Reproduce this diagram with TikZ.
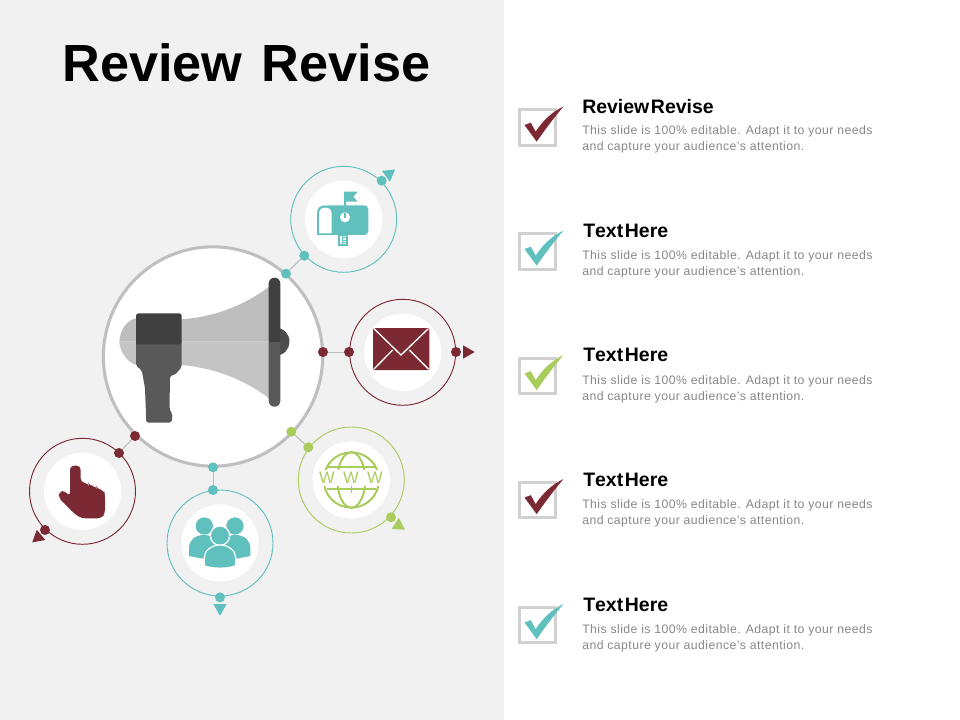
\documentclass[tikz,border=0pt]{standalone}
\usepackage{fontspec}
\setmainfont{Liberation Sans}
\usetikzlibrary{shapes.geometric}
\definecolor{maroon}{HTML}{7B2A33}
\definecolor{teal}{HTML}{60C0BE}
\definecolor{leaf}{HTML}{A9CC5C}
\definecolor{panel}{HTML}{F1F1F1}
\newcommand{\wordgap}[1]{\spaceskip #1\relax}
\begin{document}
\begin{tikzpicture}[x=0.75pt,y=-0.75pt]
  \tikzset{ ring/.style={circle,draw=#1,line width=0.7pt,inner sep=0pt,outer sep=0pt,minimum size=79.5pt},
    disc/.style={circle,fill=white,inner sep=0pt,minimum size=58pt},
    dot/.style={circle,fill=#1,inner sep=0pt,outer sep=0pt,minimum size=7.5pt},
    tip/.style={regular polygon,regular polygon sides=3,fill=#1,inner sep=0pt,outer sep=0pt,minimum size=11.5pt},
    link/.style={draw=gray!55,line width=0.75pt},
    chk/.style={draw=black!18,line width=2.2pt,inner sep=0pt,minimum size=26.5pt},
    head/.style={anchor=west,inner sep=0pt,font=\fontsize{14.6}{16}\selectfont\bfseries\addfontfeature{Kerning=Off}\wordgap{1.2pt}},
    copy/.style={anchor=west,inner sep=0pt,align=left,text=black!47,font=\fontsize{9.2}{12}\selectfont\addfontfeature{LetterSpace=3.5}},
    zoomed/.style={x=.25pt,y=-.25pt},
    tick/.pic={\fill[pic actions,x=.25pt,y=-.25pt] (77.5,-62.5) .. controls (45,-48) and (15,-20) .. (-5.5,12.5) -- (-20,-14.5) -- (-39,-7.5) -- (-2.5,42.5) .. controls (12,22) and (40,-18) .. cycle;},
  }
  \fill[panel] (0,0) rectangle (504,720);
  \path[use as bounding box] (0,0) rectangle (960,720);
  \node[anchor=west,inner sep=0pt,font=\fontsize{39.2}{44}\selectfont\bfseries\wordgap{14.7pt}] (title) at (62,63) {Review Revise};

  % the big circle and the megaphone
  \node[circle,draw=black!25,fill=white,line width=2.3pt,inner sep=0pt,minimum size=164.5pt] (main) at (213,356.5) {};
  \fill[black!26] (119.3,341.7) .. controls (120,330) and (127,320) .. (136,318.3) -- (181.7,319.3) .. controls (215,317) and (245,305) .. (269,286.7) -- (269,341.7) -- cycle;
  \fill[black!23] (119.3,341.7) .. controls (120,352) and (127,362) .. (136,365) -- (181.7,365) .. controls (215,368) and (245,380) .. (269,398.3) -- (269,341.7) -- cycle;
  \fill[black!70] (275,327.7) .. controls (284,327.7) and (289.5,334) .. (289.5,341.7) .. controls (289.5,349) and (284,355.7) .. (275,355.7) -- cycle;
  \fill[black!65,rounded corners=1.5pt] (136,340) -- (136,366) -- (141.7,370) -- (145,388) -- (146.3,422.5) -- (171.7,422.5) -- (172.5,414) -- (169.5,409.5) -- (170,375.5) -- (175,375) -- (181.7,367) -- (181.7,340) -- cycle;
  \fill[black!75,rounded corners=2pt] (136,344.3) -- (136,313.3) -- (181.7,313.3) -- (181.7,344.3) [sharp corners] -- cycle;
  \fill[black!65,rounded corners=4.3pt] (268.7,335) -- (268.7,406.7) -- (280.3,406.7) -- (280.3,335) -- cycle;
  \fill[black!75,rounded corners=4.3pt] (268.7,345) -- (268.7,277.7) -- (280.3,277.7) -- (280.3,345) -- cycle;
  \fill[black!65] (268.7,341.7) rectangle (280.3,350);

  % the rings round the big circle
  \node[ring=teal] (mailring) at (343.7,219.3) {};
  \node[disc] (maildisc) at (343.7,219.3) {};
  \node[ring=maroon] (envring) at (402.7,352.3) {};
  \node[disc] (envdisc) at (402.7,352.3) {};
  \node[ring=leaf] (webring) at (351.3,480) {};
  \node[disc] (webdisc) at (351.3,480) {};
  \node[ring=teal] (teamring) at (220,543) {};
  \node[disc] (teamdisc) at (220,543) {};
  \node[ring=maroon] (handring) at (82.5,491.3) {};
  \node[disc] (handdisc) at (82.5,491.3) {};

  % the dots
  \node[dot=teal] (mailin) at (286,273.7) {};
  \node[dot=teal] (mailmid) at (304.3,255.7) {};
  \node[dot=teal] (mailout) at (381.7,180.7) {};
  \node[dot=maroon] (envin) at (323,352) {};
  \node[dot=maroon] (envmid) at (349,352) {};
  \node[dot=maroon] (envout) at (456,352) {};
  \node[dot=leaf] (webin) at (291.3,431.7) {};
  \node[dot=leaf] (webmid) at (308.3,447.3) {};
  \node[dot=leaf] (webout) at (391,517.3) {};
  \node[dot=teal] (teamin) at (213,467.3) {};
  \node[dot=teal] (teammid) at (213,490) {};
  \node[dot=teal] (teamout) at (220,597.3) {};
  \node[dot=maroon] (handin) at (135,436) {};
  \node[dot=maroon] (handmid) at (119,453) {};
  \node[dot=maroon] (handout) at (45,530) {};

  % the connection between the dots
  \draw[link] (mailin) -- (mailmid);
  \draw[link] (envin) -- (envmid);
  \draw[link] (webin) -- (webmid);
  \draw[link] (teamin) -- (teammid);
  \draw[link] (handin) -- (handmid);

  % the small triangles
  \node[tip=teal,shape border rotate=-54] (mailtip) at (389,174) {};
  \node[tip=maroon,shape border rotate=-90] (envtip) at (467,352) {};
  \node[tip=leaf,shape border rotate=-123] (webtip) at (398.5,525.5) {};
  \node[tip=teal,shape border rotate=180] (teamtip) at (220,608) {};
  \node[tip=maroon,shape border rotate=130] (handtip) at (38.1,537.4) {};

  % mailbox
  \begin{scope}[shift={(270,150)},zoomed]
    \fill[teal,rounded corners=3pt] (165,166) -- (295,166) -- (295,255) -- (165,255) -- cycle;
    \fill[teal] (141,255) -- (141,190) .. controls (141,175) and (150,166) .. (165,166) .. controls (180,166) and (191,175) .. (191,190) -- (191,255) -- cycle;
    \fill[white] (147,250) -- (147,192) .. controls (147,180) and (153,173) .. (166,173) .. controls (179,173) and (185,180) .. (185,192) -- (185,250) -- cycle;
    \fill[teal] (222,125) -- (263,125) -- (250,140) -- (263,155) -- (228,155) -- (228,200) -- (222,200) -- cycle;
    \fill[white] (225,202) circle[radius=15];
    \fill[teal] (222,190) rectangle (228,205);
    \fill[teal] (205,255) rectangle (233,287);
    \fill[white] (211,258) rectangle (227,282);
    \fill[teal] (216,258) rectangle (219,282);
    \fill[teal] (216,262) rectangle (227,265);
    \fill[teal] (216,269) rectangle (227,272);
    \fill[teal] (216,276) rectangle (227,279);
  \end{scope}

  % envelope
  \begin{scope}[shift={(270,150)},zoomed]
    \fill[maroon,rounded corners=1pt] (309,534) rectangle (478,660);
    \draw[white,line width=1pt] (312,536) -- (393,615) -- (475,536);
    \draw[white,line width=1pt] (312,657) -- (368,600);
    \draw[white,line width=1pt] (475,657) -- (418,600);
  \end{scope}

  % globe, hand and people
  \begin{scope}[shift={(20,420)},zoomed]
    \draw[leaf,line width=1.5pt] (994,180) circle[radius=83];
    \draw[leaf,line width=1.5pt] (994,180) ellipse[x radius=42,y radius=83];
    \draw[leaf,line width=1.5pt] (920,142) -- (1068,142);
    \draw[leaf,line width=1.5pt] (920,208) -- (1068,208);
    \draw[leaf,line width=1.2pt] (994,197) -- (994,220);
    \fill[white] (890,150) rectangle (1100,198);
    \node[inner sep=0pt,text=leaf,font=\fontsize{12.5}{14}\selectfont\wordgap{6.2pt}] (www) at (993,174) {W W W};

    \fill[maroon,rounded corners=3pt] (150,230) -- (150,137) -- (182,137) -- (182,187) -- (205,190) -- (208,198) -- (228,198) -- (232,208) -- (252,210) -- (255,225) -- (255,280) -- (245,295) -- (185,295) -- (165,283) -- (115,232) -- (118,215) -- (135,212) -- cycle;

    \fill[teal] (553,318) circle[radius=26];
    \fill[teal] (645,318) circle[radius=26];
    \fill[teal] (507,408) -- (507,385) .. controls (507,360) and (525,345) .. (553,345) .. controls (585,345) and (600,370) .. (600,410) -- (555,417) -- cycle;
    \fill[teal] (691,408) -- (691,385) .. controls (691,360) and (673,345) .. (645,345) .. controls (615,345) and (600,370) .. (600,410) -- (645,417) -- cycle;
    \fill[teal,draw=white,line width=0.9pt] (600,347) circle[radius=29];
    \fill[teal,draw=white,line width=0.9pt] (553,437) -- (553,412) .. controls (553,392) and (575,375) .. (600,375) .. controls (625,375) and (647,392) .. (647,412) -- (647,437) .. controls (625,447) and (575,447) .. cycle;
  \end{scope}

  % the list on the right
  \node[chk] (box1) at (537.5,127.5) {};
  \node[chk] (box2) at (537.5,251.5) {};
  \node[chk] (box3) at (537.5,376) {};
  \node[chk] (box4) at (537.5,500) {};
  \node[chk] (box5) at (537.5,625) {};
  \pic[fill=maroon] at (box1) {tick};
  \pic[fill=teal] at (box2) {tick};
  \pic[fill=leaf] at (box3) {tick};
  \pic[fill=maroon] at (box4) {tick};
  \pic[fill=teal] at (box5) {tick};
  \node[head] (head1) at (582,106.5) {Review Revise};
  \node[head] (head2) at (583,230.5) {Text Here};
  \node[head] (head3) at (583,354.5) {Text Here};
  \node[head] (head4) at (583,479.5) {Text Here};
  \node[head] (head5) at (583,604.5) {Text Here};
  \node[copy] (copy1) at (582,139) {This slide is 100\% editable. Adapt it to your needs\\and capture your audience's attention.};
  \node[copy] (copy2) at (582,264) {This slide is 100\% editable. Adapt it to your needs\\and capture your audience's attention.};
  \node[copy] (copy3) at (582,389) {This slide is 100\% editable. Adapt it to your needs\\and capture your audience's attention.};
  \node[copy] (copy4) at (582,513) {This slide is 100\% editable. Adapt it to your needs\\and capture your audience's attention.};
  \node[copy] (copy5) at (582,638) {This slide is 100\% editable. Adapt it to your needs\\and capture your audience's attention.};
\end{tikzpicture}
\end{document}
